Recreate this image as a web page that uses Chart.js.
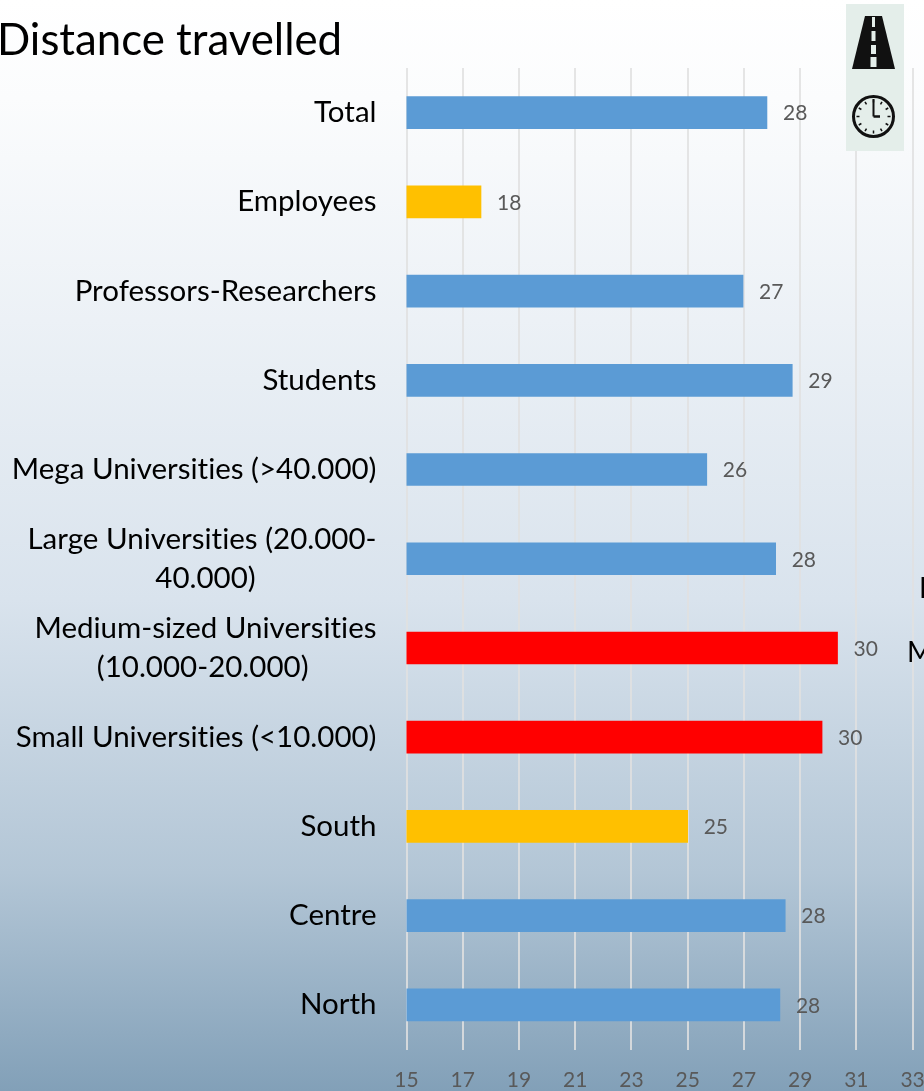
<!DOCTYPE html>
<html><head><meta charset="utf-8">
<style>
html,body{margin:0;padding:0;width:924px;height:1091px;overflow:hidden;background:#fff}
#wrap{position:relative;width:924px;height:1091px;background:linear-gradient(180deg,#ffffff 0%,#fbfcfd 9%,#d9e3ed 55%,#b3c6d6 80%,#82a0b8 100%)}
canvas{display:block}
</style>
<script src="https://cdn.jsdelivr.net/npm/chart.js@4"></script>
</head><body><div id="wrap"><canvas id="c" width="924" height="1091"></canvas></div>
<script>
const categories=["Total","Employees","Professors-Researchers","Students","Mega Universities (>40.000)",["Large Universities (20.000-","40.000)"],["Medium-sized Universities","(10.000-20.000)"],"Small Universities (<10.000)","South","Centre","North"];
const values=[27.82,17.65,26.97,28.72,25.68,28.13,30.33,29.78,25,28.47,28.28];
const valueLabels=["28","18","27","29","26","28","30","30","25","28","28"];
const barColors=["#5b9bd5","#ffc000","#5b9bd5","#5b9bd5","#5b9bd5","#5b9bd5","#ff0000","#ff0000","#ffc000","#5b9bd5","#5b9bd5"];
const FONT="Lato, Carlito, sans-serif";
const LABEL_SIZE=29.5;

// right-aligned multi-line ticks: pad the second line so both lines read as centred
const mctx=document.createElement('canvas').getContext('2d');
function centredLines(lines){
 if(!Array.isArray(lines))return lines;
 mctx.font=LABEL_SIZE+"px "+FONT;mctx.textRendering='optimizeSpeed';
 const sp=mctx.measureText("\u00A0").width;
 const gap=(mctx.measureText(lines[0]).width-mctx.measureText(lines[1]).width)/2;
 return [lines[0],lines[1]+"\u00A0".repeat(Math.round(gap/sp))];
}

const overlay={id:'overlay',
 beforeDraw(ch){ch.ctx.textRendering='optimizeSpeed';},
 afterDatasetsDraw(ch){
  const c=ch.ctx,x=ch.scales.x,y=ch.scales.y;
  c.save();
  c.font="21px "+FONT;c.fillStyle="#595959";c.textAlign="left";c.textBaseline="middle";
  values.forEach((v,i)=>c.fillText(valueLabels[i],x.getPixelForValue(v)+16,y.getPixelForValue(i)+1));
  c.fillStyle="#000";c.font="43.8px "+FONT;c.textBaseline="alphabetic";
  c.fillText("Distance travelled",-3,55);
  c.font="28px "+FONT;
  c.fillText("L",919,598);
  c.fillText("M",907,662);
  // icon panel
  c.fillStyle="#e4eeea";c.fillRect(846,4,58,147);
  c.fillStyle="#111";
  c.beginPath();c.moveTo(865,16);c.lineTo(882,16);c.lineTo(895,69);c.lineTo(852,69);c.closePath();c.fill();
  c.fillStyle="#e4eeea";
  [[17,10],[31,10],[45,9],[57,10]].forEach((r,i)=>c.fillRect(872-i*0.5,r[0],3+i,r[1]));
  c.strokeStyle="#111";c.lineWidth=3;
  c.beginPath();c.arc(873.5,116.5,20,0,Math.PI*2);c.stroke();
  c.lineWidth=1.5;
  for(let a=0;a<12;a++){const t=a*Math.PI/6;c.beginPath();c.moveTo(873.5+Math.cos(t)*14,116.5+Math.sin(t)*14);c.lineTo(873.5+Math.cos(t)*17,116.5+Math.sin(t)*17);c.stroke();}
  c.lineWidth=2;
  c.beginPath();c.moveTo(873.5,99);c.lineTo(873.5,116.5);c.stroke();
  c.lineWidth=2.5;
  c.beginPath();c.moveTo(873.5,116.5);c.lineTo(880,116.5);c.stroke();
  c.restore();
 }};

new Chart(document.getElementById('c'),{
 type:'bar',
 data:{labels:categories,datasets:[{data:values,backgroundColor:barColors,barThickness:32,borderWidth:0}]},
 plugins:[overlay],
 options:{indexAxis:'y',responsive:false,animation:false,
  layout:{padding:{top:68,right:11.4,left:0,bottom:0}},
  plugins:{legend:{display:false},title:{display:false},tooltip:{enabled:false}},
  scales:{
   x:{type:'linear',min:15,max:33,position:'bottom',
      afterFit(s){s.height=41.5;s.paddingLeft=0;s.paddingRight=0;},
      grid:{color:'rgba(225,225,225,0.85)',lineWidth:2,drawTicks:false},border:{display:false},
      ticks:{stepSize:2,color:'#595959',font:{family:FONT,size:21},padding:18,maxRotation:0,autoSkip:false}},
   y:{type:'category',position:'left',
      afterFit(s){s.width=406.5;s.paddingTop=0;s.paddingBottom=0;},
      grid:{display:false,drawTicks:false},border:{display:false},
      ticks:{color:'#000',font:{family:FONT,size:LABEL_SIZE,lineHeight:'39.5px'},padding:30,autoSkip:false,
             callback(value,index){return centredLines(categories[index]);}}}
  }}
});
</script></body></html>
